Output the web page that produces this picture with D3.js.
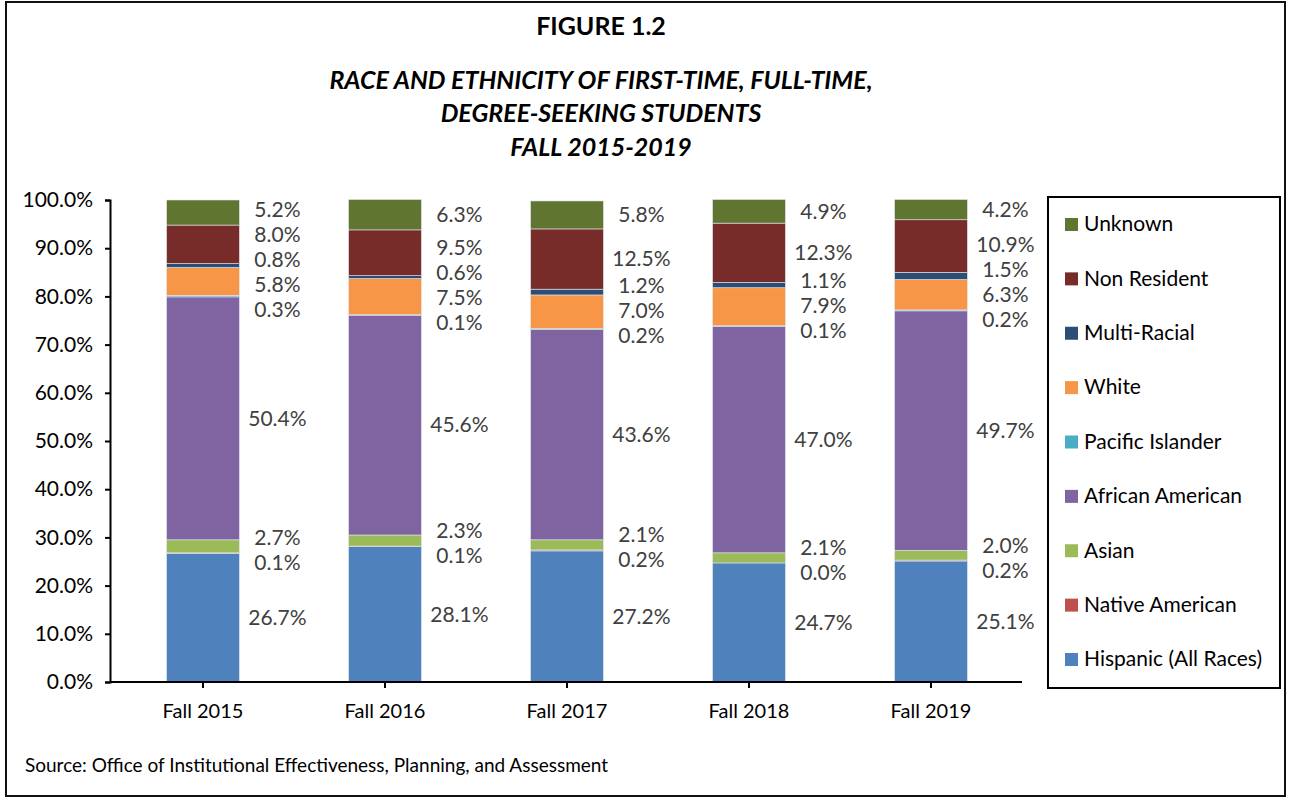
<!DOCTYPE html>
<html>
<head>
<meta charset="utf-8">
<script src="https://cdn.jsdelivr.net/npm/d3@7"></script>
<style>
  body { margin: 0; background: #fff; }
  svg { display: block; font-family: Lato, 'Open Sans', sans-serif; }
</style>
</head>
<body>
<div id="chart"></div>
<script>
const years = ['Fall 2015', 'Fall 2016', 'Fall 2017', 'Fall 2018', 'Fall 2019'];
// stacked bottom to top
const seriesNames = ['Hispanic (All Races)', 'Native American', 'Asian', 'African American', 'Pacific Islander', 'White', 'Multi-Racial', 'Non Resident', 'Unknown'];
const hispanic = [26.7, 28.1, 27.2, 24.7, 25.1];
const nativeAmerican = [0.1, 0.1, 0.2, 0.0, 0.2];
const asian = [2.7, 2.3, 2.1, 2.1, 2.0];
const africanAmerican = [50.4, 45.6, 43.6, 47.0, 49.7];
const pacificIslander = [0.3, 0.1, 0.2, 0.1, 0.2];
const white = [5.8, 7.5, 7.0, 7.9, 6.3];
const multiRacial = [0.8, 0.6, 1.2, 1.1, 1.5];
const nonResident = [8.0, 9.5, 12.5, 12.3, 10.9];
const unknown = [5.2, 6.3, 5.8, 4.9, 4.2];
const yTicks = [0, 10, 20, 30, 40, 50, 60, 70, 80, 90, 100];

const seriesValues = [hispanic, nativeAmerican, asian, africanAmerican, pacificIslander, white, multiRacial, nonResident, unknown];
const colors = ['#4F81BD', '#C0504D', '#9BBB59', '#8064A2', '#4BACC6', '#F79646', '#2C4D75', '#772C2A', '#5F7530'];

const width = 1289;
const height = 799;

const svg = d3.select('#chart').append('svg').attr('width', width).attr('height', height);

// outer frame
svg.append('rect').attr('x', 6).attr('y', 2).attr('width', 1279).attr('height', 794)
  .attr('fill', '#fff').attr('stroke', '#111').attr('stroke-width', 2);

// titles
const titles = [
  { t: 'FIGURE 1.2', y: 35, italic: false },
  { t: 'RACE AND ETHNICITY OF FIRST-TIME, FULL-TIME,', y: 89, italic: true },
  { t: 'DEGREE-SEEKING STUDENTS', y: 122, italic: true },
  { t: 'FALL 2015-2019', y: 156, italic: true }
];
svg.selectAll('.title').data(titles).enter().append('text')
  .attr('class', 'title')
  .attr('x', 601).attr('y', (d) => d.y)
  .attr('text-anchor', 'middle')
  .style('font-size', '25px').style('font-weight', 700)
  .style('font-style', (d) => (d.italic ? 'italic' : 'normal'))
  .attr('fill', '#000')
  .text((d) => d.t);

const x = d3.scaleBand().domain(years).range([112, 1022]).paddingInner(0.6).paddingOuter(0.3);
const y = d3.scaleLinear().domain([0, 100]).range([682, 200]);

// stack data
const table = years.map((yr, i) => {
  const row = { year: yr };
  seriesNames.forEach((s, j) => (row[s] = seriesValues[j][i]));
  return row;
});
const stacked = d3.stack().keys(seriesNames)(table);

const plot = svg.append('g');

stacked.forEach((layer, j) => {
  plot.selectAll(null).data(layer).enter().append('rect')
    .attr('x', (d) => x(d.data.year))
    .attr('width', x.bandwidth())
    .attr('y', (d) => y(d[1]))
    .attr('height', (d) => Math.max(0, y(d[0]) - y(d[1])))
    .attr('fill', colors[j])
    .attr('stroke', '#dfe6f0').attr('stroke-width', 0.6);
});

// axes
const yAxis = d3.axisLeft(y).tickValues(yTicks).tickSize(5).tickPadding(12).tickFormat((d) => d.toFixed(1) + '%');
const gy = svg.append('g').attr('transform', 'translate(110,0)').call(yAxis);
gy.select('.domain').attr('stroke', '#000').attr('stroke-width', 2);
gy.selectAll('.tick line').attr('stroke', '#000').attr('stroke-width', 2);
gy.selectAll('.tick text').style('font-size', '21px').attr('fill', '#000').style('font-family', 'Lato, sans-serif');

const xAxis = d3.axisBottom(x).tickSize(6).tickPadding(16).tickSizeOuter(0);
const gx = svg.append('g').attr('transform', 'translate(0,682)').call(xAxis);
gx.select('.domain').attr('stroke', '#000').attr('stroke-width', 2).attr('d', 'M110,0H1022');
gx.selectAll('.tick line').attr('stroke', '#000').attr('stroke-width', 2);
gx.selectAll('.tick text').style('font-size', '20px').attr('fill', '#000').style('font-family', 'Lato, sans-serif');

// data labels with simple vertical de-overlap per bar
const gap = 25;
years.forEach((yr, i) => {
  const labels = stacked.map((layer, j) => {
    const d = layer[i];
    const mid = (y(d[0]) + y(d[1])) / 2;
    return { text: seriesValues[j][i].toFixed(1) + '%', mid: mid, pos: mid };
  }).sort((a, b) => a.mid - b.mid);

  // pool adjacent overlapping labels into clusters
  let clusters = labels.map((l) => ({ items: [l], sum: l.mid }));
  let merged = true;
  while (merged) {
    merged = false;
    for (let k = 0; k < clusters.length - 1; k++) {
      const a = clusters[k];
      const b = clusters[k + 1];
      const aBottom = a.sum / a.items.length + ((a.items.length - 1) * gap) / 2;
      const bTop = b.sum / b.items.length - ((b.items.length - 1) * gap) / 2;
      if (bTop - aBottom < gap) {
        clusters.splice(k, 2, { items: a.items.concat(b.items), sum: a.sum + b.sum });
        merged = true;
        break;
      }
    }
  }
  clusters.forEach((c) => {
    const meanMid = c.items.reduce((s, l, k) => s + l.mid - k * gap, 0) / c.items.length;
    c.items.forEach((l, k) => (l.pos = meanMid + k * gap));
  });

  const barRight = x(yr) + x.bandwidth();
  labels.forEach((l) => {
    const moved = Math.abs(l.pos - l.mid) > 18;
    const cx = barRight + (moved ? 45 : 38);
    if (moved) {
      plot.append('path')
        .attr('d', `M${barRight},${l.mid}L${barRight + 8},${l.pos}L${cx - 26},${l.pos}`)
        .attr('fill', 'none').attr('stroke', '#a6a6a6').attr('stroke-width', 1.2);
    }
    plot.append('text')
      .attr('x', cx).attr('y', l.pos)
      .attr('dy', '0.35em')
      .attr('text-anchor', 'middle')
      .style('font-size', '21px')
      .attr('fill', '#404040')
      .text(l.text);
  });
});

// legend
const legend = svg.append('g');
legend.append('rect').attr('x', 1048).attr('y', 197).attr('width', 232).attr('height', 491)
  .attr('fill', '#fff').attr('stroke', '#000').attr('stroke-width', 2);
const legendOrder = seriesNames.map((s, j) => ({ name: s, color: colors[j] })).reverse();
const ly = d3.scalePoint().domain(legendOrder.map((d) => d.name)).range([224, 659]);
const items = legend.selectAll('.item').data(legendOrder).enter().append('g')
  .attr('class', 'item')
  .attr('transform', (d) => `translate(1065, ${ly(d.name)})`);
items.append('rect').attr('x', 0).attr('y', -6).attr('width', 13).attr('height', 13).attr('fill', (d) => d.color);
items.append('text').attr('x', 19).attr('y', 0).attr('dy', '0.35em')
  .style('font-size', '21px').attr('fill', '#000').text((d) => d.name);

// source
svg.append('text').attr('x', 25).attr('y', 772)
  .style('font-size', '19px').attr('fill', '#000')
  .text('Source: Office of Institutional Effectiveness, Planning, and Assessment');
</script>
</body>
</html>
